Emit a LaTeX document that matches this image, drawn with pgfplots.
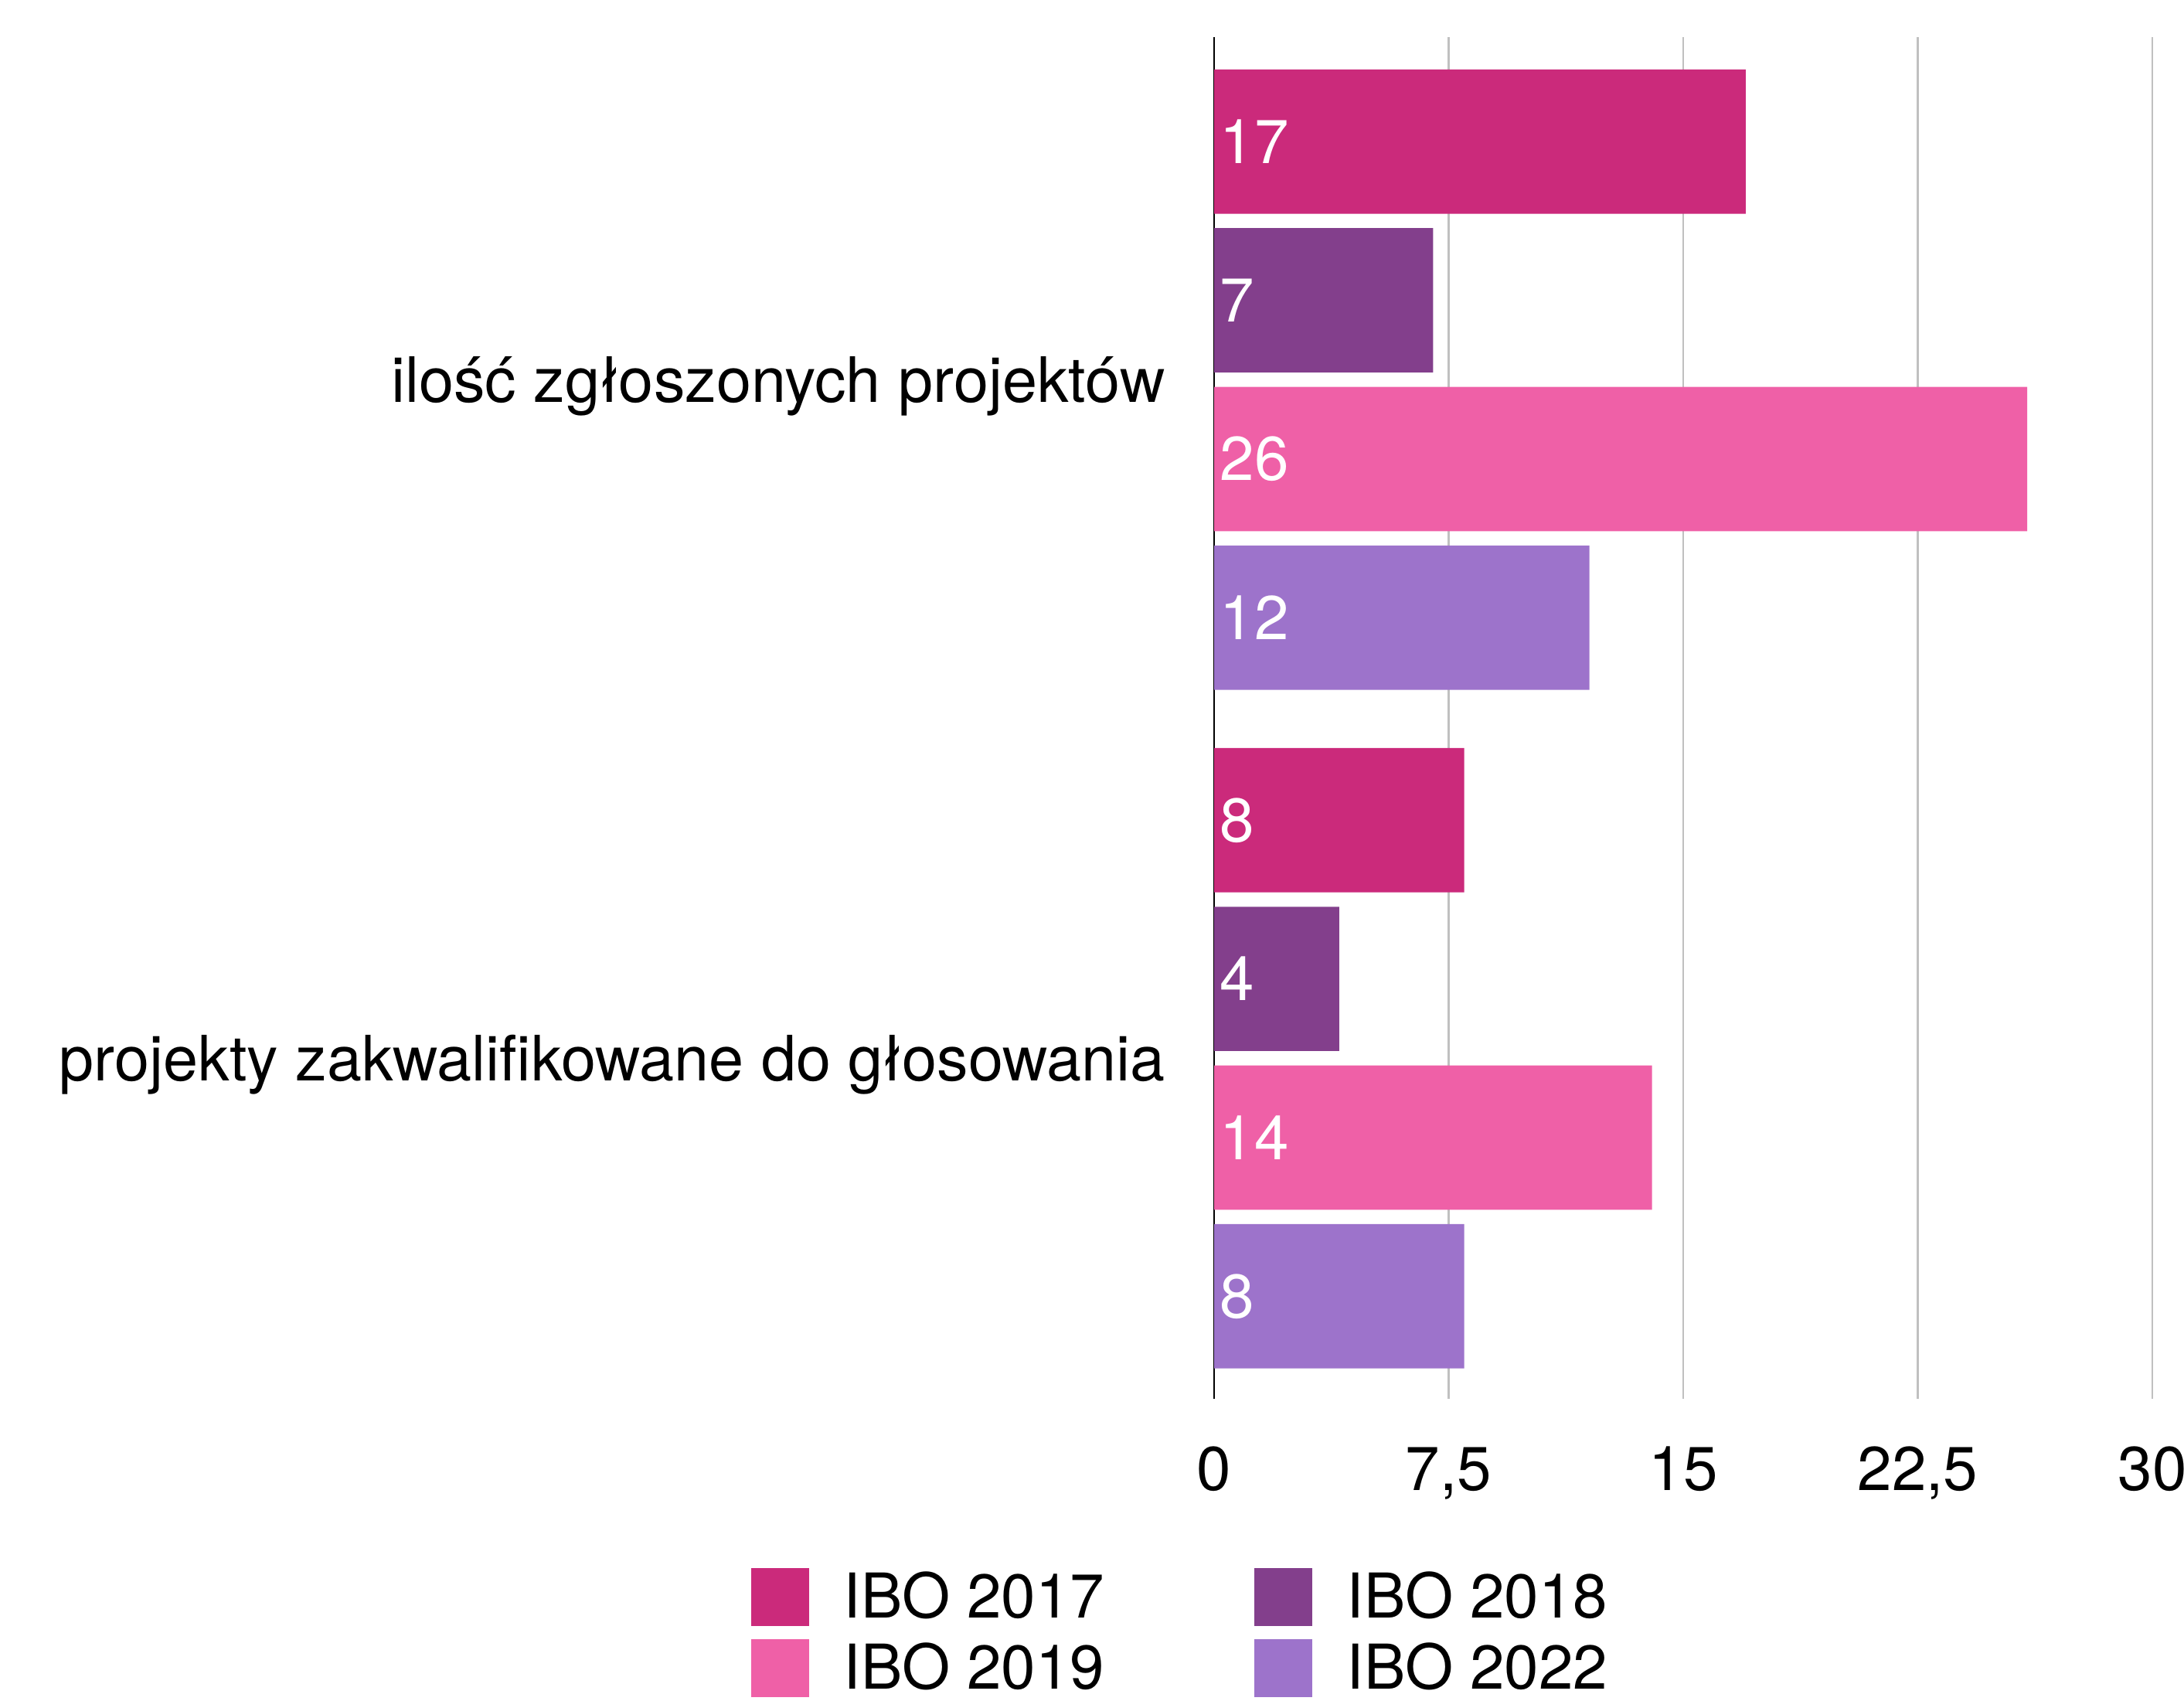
\documentclass[border=0pt]{standalone}
\usepackage{fontspec}
\setmainfont{TeX Gyre Heros}
\usepackage{pgfplots}
\pgfplotsset{compat=1.18}
\definecolor{c17}{HTML}{CB2A7B}
\definecolor{c18}{HTML}{833F8C}
\definecolor{c19}{HTML}{EF60A7}
\definecolor{c22}{HTML}{9D73CB}
\definecolor{gridc}{HTML}{C0C0C0}
\pgfplotsset{
  sq legend/.style={legend image code/.code={\fill[##1] (0pt,-9.35pt) rectangle (18.75pt,9.35pt);}},
  barsty/.style={xbar, bar shift=0pt, bar width=186.7, draw=none, fill=#1, forget plot,
    point meta=explicit symbolic, nodes near coords={\pgfplotspointmeta},
    visualization depends on={x \as \rawx},
    every node near coord/.append style={anchor=west, inner sep=0pt, text=white,
      shift={(axis direction cs:-\rawx,0)}, xshift=1.75pt}},
}
\begin{document}
\begin{tikzpicture}[font=\fontsize{20}{24}\selectfont]
\path[use as bounding box] (0,0) rectangle (706.5pt,550pt);
\begin{axis}[
  at={(392.75pt,97.5pt)}, anchor=south west,
  scale only axis, width=303.5pt, height=440.5pt,
  xmin=0, xmax=30, ymin=-1810, ymax=-48,
  axis y line*=left, axis x line*=bottom,
  x axis line style={draw=none},
  y axis line style={black, line width=0.7pt},
  xtick={0,7.5,15,22.5,30},
  xticklabels={0,{7,5},15,{22,5},30},
  xticklabel style={anchor=base, inner sep=0pt, yshift=-29.5pt},
  ytick={-491.35,-1369.35},
  yticklabels={ilość zgłoszonych projektów, projekty zakwalifikowane do głosowania},
  yticklabel style={anchor=base east, inner sep=0pt, xshift=-15.6pt, yshift=-7.4pt,
    font=\fontsize{20.25}{24}\selectfont},
  major tick length=0pt,
  xmajorgrids,
  grid style={gridc, line width=0.6pt},
  legend columns=2, legend cell align=left,
  legend style={at={(-0.49341,-0.12429)}, anchor=north west, draw=none, fill=none,
    inner sep=0pt, outer sep=0pt, row sep=4.4pt, nodes={inner sep=0pt},
    /tikz/every odd column/.append style={column sep=11.2pt},
    /tikz/every even column/.append style={column sep=48.4pt}},
]
\addplot[barsty=c17] coordinates {(17,-183.3) [17] (8,-1061.3) [8]};
\addplot[barsty=c18] coordinates {(7,-388.6) [7] (4,-1266.6) [4]};
\addplot[barsty=c19] coordinates {(26,-593.9) [26] (14,-1471.9) [14]};
\addplot[barsty=c22] coordinates {(12,-799.3) [12] (8,-1677.3) [8]};
\addlegendimage{sq legend, fill=c17, draw=none}
\addlegendentry{IBO 2017}
\addlegendimage{sq legend, fill=c18, draw=none}
\addlegendentry{IBO 2018}
\addlegendimage{sq legend, fill=c19, draw=none}
\addlegendentry{IBO 2019}
\addlegendimage{sq legend, fill=c22, draw=none}
\addlegendentry{IBO 2022}
\end{axis}
\end{tikzpicture}
\end{document}
